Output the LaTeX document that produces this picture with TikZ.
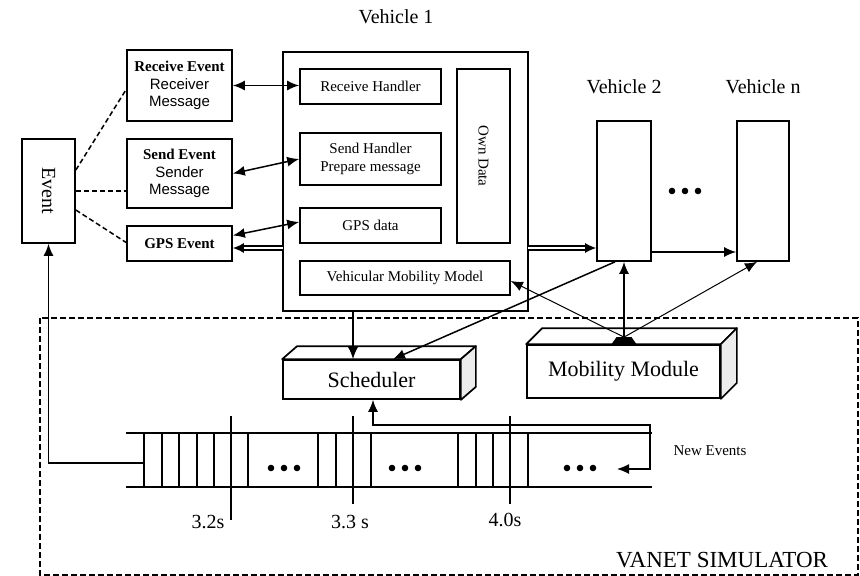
\documentclass[tikz,border=0pt]{standalone}
\usepackage{fontspec}
\setmainfont{Liberation Serif}
\newfontfamily\sansf{Liberation Sans}
\usetikzlibrary{arrows.meta,calc}
\begin{document}
\begin{tikzpicture}[x=1pt,y=-1pt,
  box/.style={draw, line width=1.7pt, inner sep=0pt, fill=white, align=center},
  f15/.style={font=\fontsize{15}{17.5}\selectfont},
  lbl/.style={font=\fontsize{20}{24}\selectfont, inner sep=0pt},
  big/.style={font=\fontsize{22}{26}\selectfont, inner sep=0pt},
  conn/.style={line width=1.5pt},
  thinconn/.style={line width=1pt},
  tipend/.style={-{Latex[length=12pt,width=10pt]}},
  dtip/.style={{Latex[length=12pt,width=10pt]}-{Latex[length=12pt,width=10pt]}},
  dashline/.style={line width=1.5pt, dash pattern=on 5pt off 3pt},
  tl/.style={line width=1.3pt},
]
\useasboundingbox (0,0) rectangle (860,576);

% simulator frame
\draw[line width=1.3pt, dash pattern=on 6pt off 3pt] (40,318) rectangle (858,575);
\node[inner sep=0pt, font=\fontsize{23}{27}\selectfont] (sim) at (722,560) {VANET SIMULATOR};

% vehicle labels
\node[lbl] (v1l) at (396,17) {Vehicle 1};
\node[lbl] (v2l) at (624,87) {Vehicle 2};
\node[lbl] (vnl) at (763,87) {Vehicle n};

% vehicle 1
\node[box, minimum width=245pt, minimum height=259pt] (v1) at (405.5,181.5) {};
\node[box, f15, minimum width=141pt, minimum height=35pt] (rh) at (370.5,86.5) {Receive Handler};
\node[box, f15, minimum width=141pt, minimum height=52pt, font=\fontsize{15}{18}\selectfont] (sh) at (370.5,159) {Send Handler\\Prepare message};
\node[box, f15, minimum width=141pt, minimum height=35pt] (gd) at (370.5,225.5) {GPS data};
\node[box, minimum width=53pt, minimum height=174pt] (od) at (483.5,156) {};
\node[f15, rotate=-90] (odt) at (od.center) {Own Data};
\node[box, f15, minimum width=210pt, minimum height=34pt] (vmm) at (405,278) {Vehicular Mobility Model};

% event boxes
\node[box, f15, minimum width=105pt, minimum height=71pt] (re) at (179.5,85.5)
  {\textbf{Receive Event}\\{\sansf Receiver}\\{\sansf Message}};
\node[box, f15, minimum width=105pt, minimum height=69pt] (se) at (179.5,173.5)
  {\textbf{Send Event}\\{\sansf Sender}\\{\sansf Message}};
\node[box, f15, minimum width=105pt, minimum height=35pt] (ge) at (179.5,243.5) {\textbf{GPS Event}};
\node[box, minimum width=53pt, minimum height=104pt] (ev) at (48.5,191) {};
\node[lbl, rotate=-90] (evt) at (ev.center) {Event};

% other vehicles
\node[box, minimum width=54pt, minimum height=140pt] (v2) at (624,191) {};
\node[box, minimum width=52pt, minimum height=140pt] (vn) at (763,191) {};
\foreach \x in {672,685,698} \fill (\x,191) circle (3.3pt);

% scheduler (3D box)
\node[box, big, minimum width=177pt, minimum height=39pt] (sch) at (371.5,379.5) {Scheduler};
\draw[line width=1.7pt, fill=white, line join=round] (sch.north west) -- ++(15,-13) -- ([shift={(15,-13)}]sch.north east) -- (sch.north east) -- cycle;
\draw[line width=1.7pt, fill=gray!15, line join=round] (sch.north east) -- ++(15,-13) -- ([shift={(15,-13)}]sch.south east) -- (sch.south east) -- cycle;

% mobility module (3D box)
\node[box, big, minimum width=193pt, minimum height=53pt] (mm) at (623.5,371.5) {Mobility Module};
\draw[line width=1.7pt, fill=white, line join=round] (mm.north west) -- ++(16,-16) -- ([shift={(16,-16)}]mm.north east) -- (mm.north east) -- cycle;
\draw[line width=1.7pt, fill=gray!15, line join=round] (mm.north east) -- ++(16,-16) -- ([shift={(16,-16)}]mm.south east) -- (mm.south east) -- cycle;
\fill ([xshift=-12pt]mm.north) -- ([xshift=13pt]mm.north) -- ([xshift=8pt,yshift=7pt]mm.north) -- ([xshift=-7pt,yshift=7pt]mm.north) -- cycle;
\coordinate (mmt) at ([xshift=0.5pt,yshift=7pt]mm.north);

% dashed links from Event
\draw[dashline] ([yshift=21pt]ev.east) -- ([yshift=-4pt]re.west);
\draw[dashline] (ev.east) -- (ev.east -| se.west);
\draw[dashline] ([yshift=-19pt]ev.east) -- ([yshift=1pt]ge.west);

% event <-> handler
\draw[conn, dtip] (re.east) -- (re.east -| rh.west);
\draw[conn, dtip] (se.east) -- (sh.west);
\draw[conn, dtip] ([yshift=8pt]ge.east) -- ([yshift=3.5pt]gd.west);

% double lines
\coordinate (dl) at (283,248);
\coordinate (dr) at (528,248);
\draw[line width=1.3pt, double, double distance=2.6pt, -{Latex[length=11pt,width=10pt]}] (dl) -- (dl -| ge.east);
\draw[line width=1.3pt, double, double distance=2.6pt, -{Latex[length=11pt,width=10pt]}] (dr) -- (dr -| v2.west);
\draw[conn, tipend] ([yshift=-61pt]v2.east) -- ([yshift=-61pt]v2.east -| vn.west);

% to scheduler
\draw[conn, tipend] ([xshift=-52.5pt]v1.south) -- ([xshift=-18.5pt]sch.north);
\draw[conn, tipend] ([xshift=-9pt]v2.south) -- ([xshift=21.5pt]sch.north);

% from mobility module
\draw[conn, tipend] (mmt) -- (v2.south);
\draw[thinconn, tipend] (mmt) -- ([xshift=-6pt]vn.south);
\draw[thinconn, tipend] (mmt) -- ([yshift=-3pt]vmm.east);

% timeline
\draw[tl] (126,433) -- (652,433);
\draw[tl] (126,487) -- (652,487);
\foreach \x in {144,162,179,197,214,248,318,336,371,458,476,493,528}
  \draw[tl] (\x,433) -- (\x,487);
\draw[conn] (231,416) -- (231,520);
\draw[conn] (353,416) -- (353,504);
\draw[conn] (510,416) -- (510,504);
\foreach \x in {271,284,297,392,405,418,567,580,593} \fill (\x,468) circle (3.3pt);
\node[lbl] (t1) at (208,522) {3.2s};
\node[lbl] (t2) at (350,522) {3.3 s};
\node[lbl] (t3) at (505,520) {4.0s};
\node[f15, inner sep=0pt] (ne) at (710,451) {New Events};

\coordinate (tlq) at (144,463);
\coordinate (tln) at (617,469);
\draw[tl, tipend] (tlq) -| (ev.south);
\draw[tl, dtip] ([xshift=1.5pt]sch.south) |- (650,425) |- (tln);
\end{tikzpicture}
\end{document}
